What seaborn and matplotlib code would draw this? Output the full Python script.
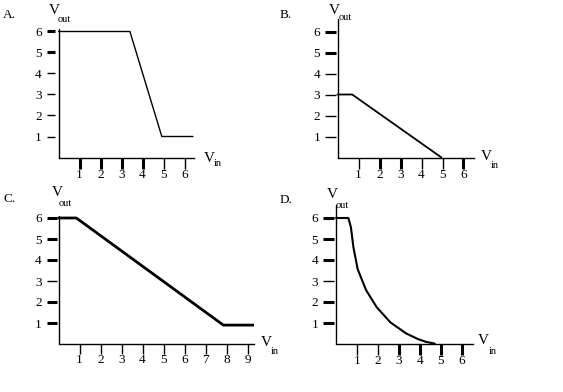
import matplotlib
matplotlib.use('Agg')
import matplotlib.pyplot as plt
import seaborn as sns

# transfer curves
a_vin = [0, 3.4, 4.92, 6.4]
a_vout = [6, 6, 1, 1]

b_vin = [0, 0.7, 4.95]
b_vout = [3, 3, 0]

c_vin = [0, 0.85, 7.85, 9.3]
c_vout = [6, 6, 0.9, 0.9]

d_vin = [0, 0.59, 0.71, 0.83, 1.03, 1.43, 1.94, 2.59, 3.33, 3.89, 4.29, 4.6, 4.7]
d_vout = [6, 6, 5.56, 4.6, 3.57, 2.57, 1.75, 1.03, 0.51, 0.24, 0.1, 0.04, 0.02]

yticks = [1, 2, 3, 4, 5, 6]
xticks_short = [1, 2, 3, 4, 5, 6]
xticks_long = [1, 2, 3, 4, 5, 6, 7, 8, 9]

W, H = 563, 392
sns.set_style('white')
plt.rcParams['font.family'] = ['Liberation Serif', 'DejaVu Serif']

fig = plt.figure(figsize=(W / 100, H / 100), dpi=100)


def ftext(x, y, s, size, **kw):
    fig.text(x / W, 1 - y / H, s, fontsize=size, color='k', **kw)


def make_panel(ox, oy, u, xmax, ymax, gap, ylen, xlen, xt, ywid, xwid):
    # ox, oy: pixel position of the origin, u: pixels per volt
    left = ox - gap
    ax = fig.add_axes([left / W, (H - oy) / H, (xmax * u + gap) / W, ymax * u / H])
    ax.set_xlim(-gap / u, xmax)
    ax.set_ylim(0, ymax)
    ax.patch.set_alpha(0)
    for s in ['top', 'right', 'left']:
        ax.spines[s].set_visible(False)
    ax.spines['bottom'].set_bounds(0, xmax)
    ax.spines['bottom'].set_linewidth(1.0)
    ax.spines['bottom'].set_color('k')
    ax.axvline(0, color='k', lw=1.0)
    ax.set_yticks(yticks)
    ax.set_xticks(xt)
    ax.tick_params(axis='y', direction='out', length=ylen * 0.72, pad=3.5,
                   labelsize=9.5, colors='k', left=True)
    ax.tick_params(axis='x', direction='out', length=xlen * 0.72, pad=0,
                   labelsize=9.5, colors='k', bottom=True)
    for t, w in zip(ax.yaxis.get_major_ticks(), ywid):
        t.tick1line.set_markeredgewidth(w)
    for t, w in zip(ax.xaxis.get_major_ticks(), xwid):
        t.tick1line.set_markeredgewidth(w)
    ax.set_xlabel('')
    ax.set_ylabel('')
    return ax


# A
ax = make_panel(58.5, 157.5, 21, 6.45, 6.1, 4, 8, 11, xticks_short,
                [1, 1, 1, 1, 2.2, 2.2], [2.2, 2.2, 2.2, 2.2, 1, 1])
sns.lineplot(x=a_vin, y=a_vout, ax=ax, color='k', lw=1.0, sort=False)
# B
ax = make_panel(337.5, 157.5, 21, 6.5, 6.6, 1.5, 11, 11, xticks_short,
                [1, 1, 1, 1, 2.2, 2.2], [1, 2.2, 2.2, 1, 1, 2.2])
sns.lineplot(x=b_vin, y=b_vout, ax=ax, color='k', lw=1.3, sort=False)
# C
ax = make_panel(58.5, 344, 21, 9.3, 6.1, 2, 10, 10, xticks_long,
                [2.2, 2.2, 1, 2.2, 2.2, 2.2], [1] * 9)
sns.lineplot(x=c_vin, y=c_vout, ax=ax, color='k', lw=2.0, sort=False)
# D
ax = make_panel(336, 344, 21, 6.5, 6.6, 2, 11, 11, xticks_short,
                [2.2, 2.2, 1, 2.2, 2.2, 2.2], [1, 1, 2.2, 2.2, 2.2, 2.2])
sns.lineplot(x=d_vin, y=d_vout, ax=ax, color='k', lw=1.5, sort=False)

# panel letters
ftext(3, 15, 'A.', 9.5, va='center', ha='left')
ftext(280, 15, 'B.', 9.5, va='center', ha='left')
ftext(3, 199, 'C.', 9.5, va='center', ha='left')
ftext(280, 200, 'D.', 9.5, va='center', ha='left')

# axis names
for vx, vy, sx, sy in [(49, 11, 58, 19), (329, 10, 339, 17), (52, 193, 59, 204), (327, 194, 336, 206)]:
    ftext(vx, vy, 'V', 11, va='center', ha='left')
    ftext(sx, sy, 'out', 7.5, va='center', ha='left')
for vx, vy, sx, sy in [(204, 158, 214, 164), (481, 156, 491, 165), (261, 343, 271, 352), (478, 341, 489, 351)]:
    ftext(vx, vy, 'V', 11, va='center', ha='left')
    ftext(sx, sy, 'in', 7.5, va='center', ha='left')

fig.savefig('out.png', dpi=100)
